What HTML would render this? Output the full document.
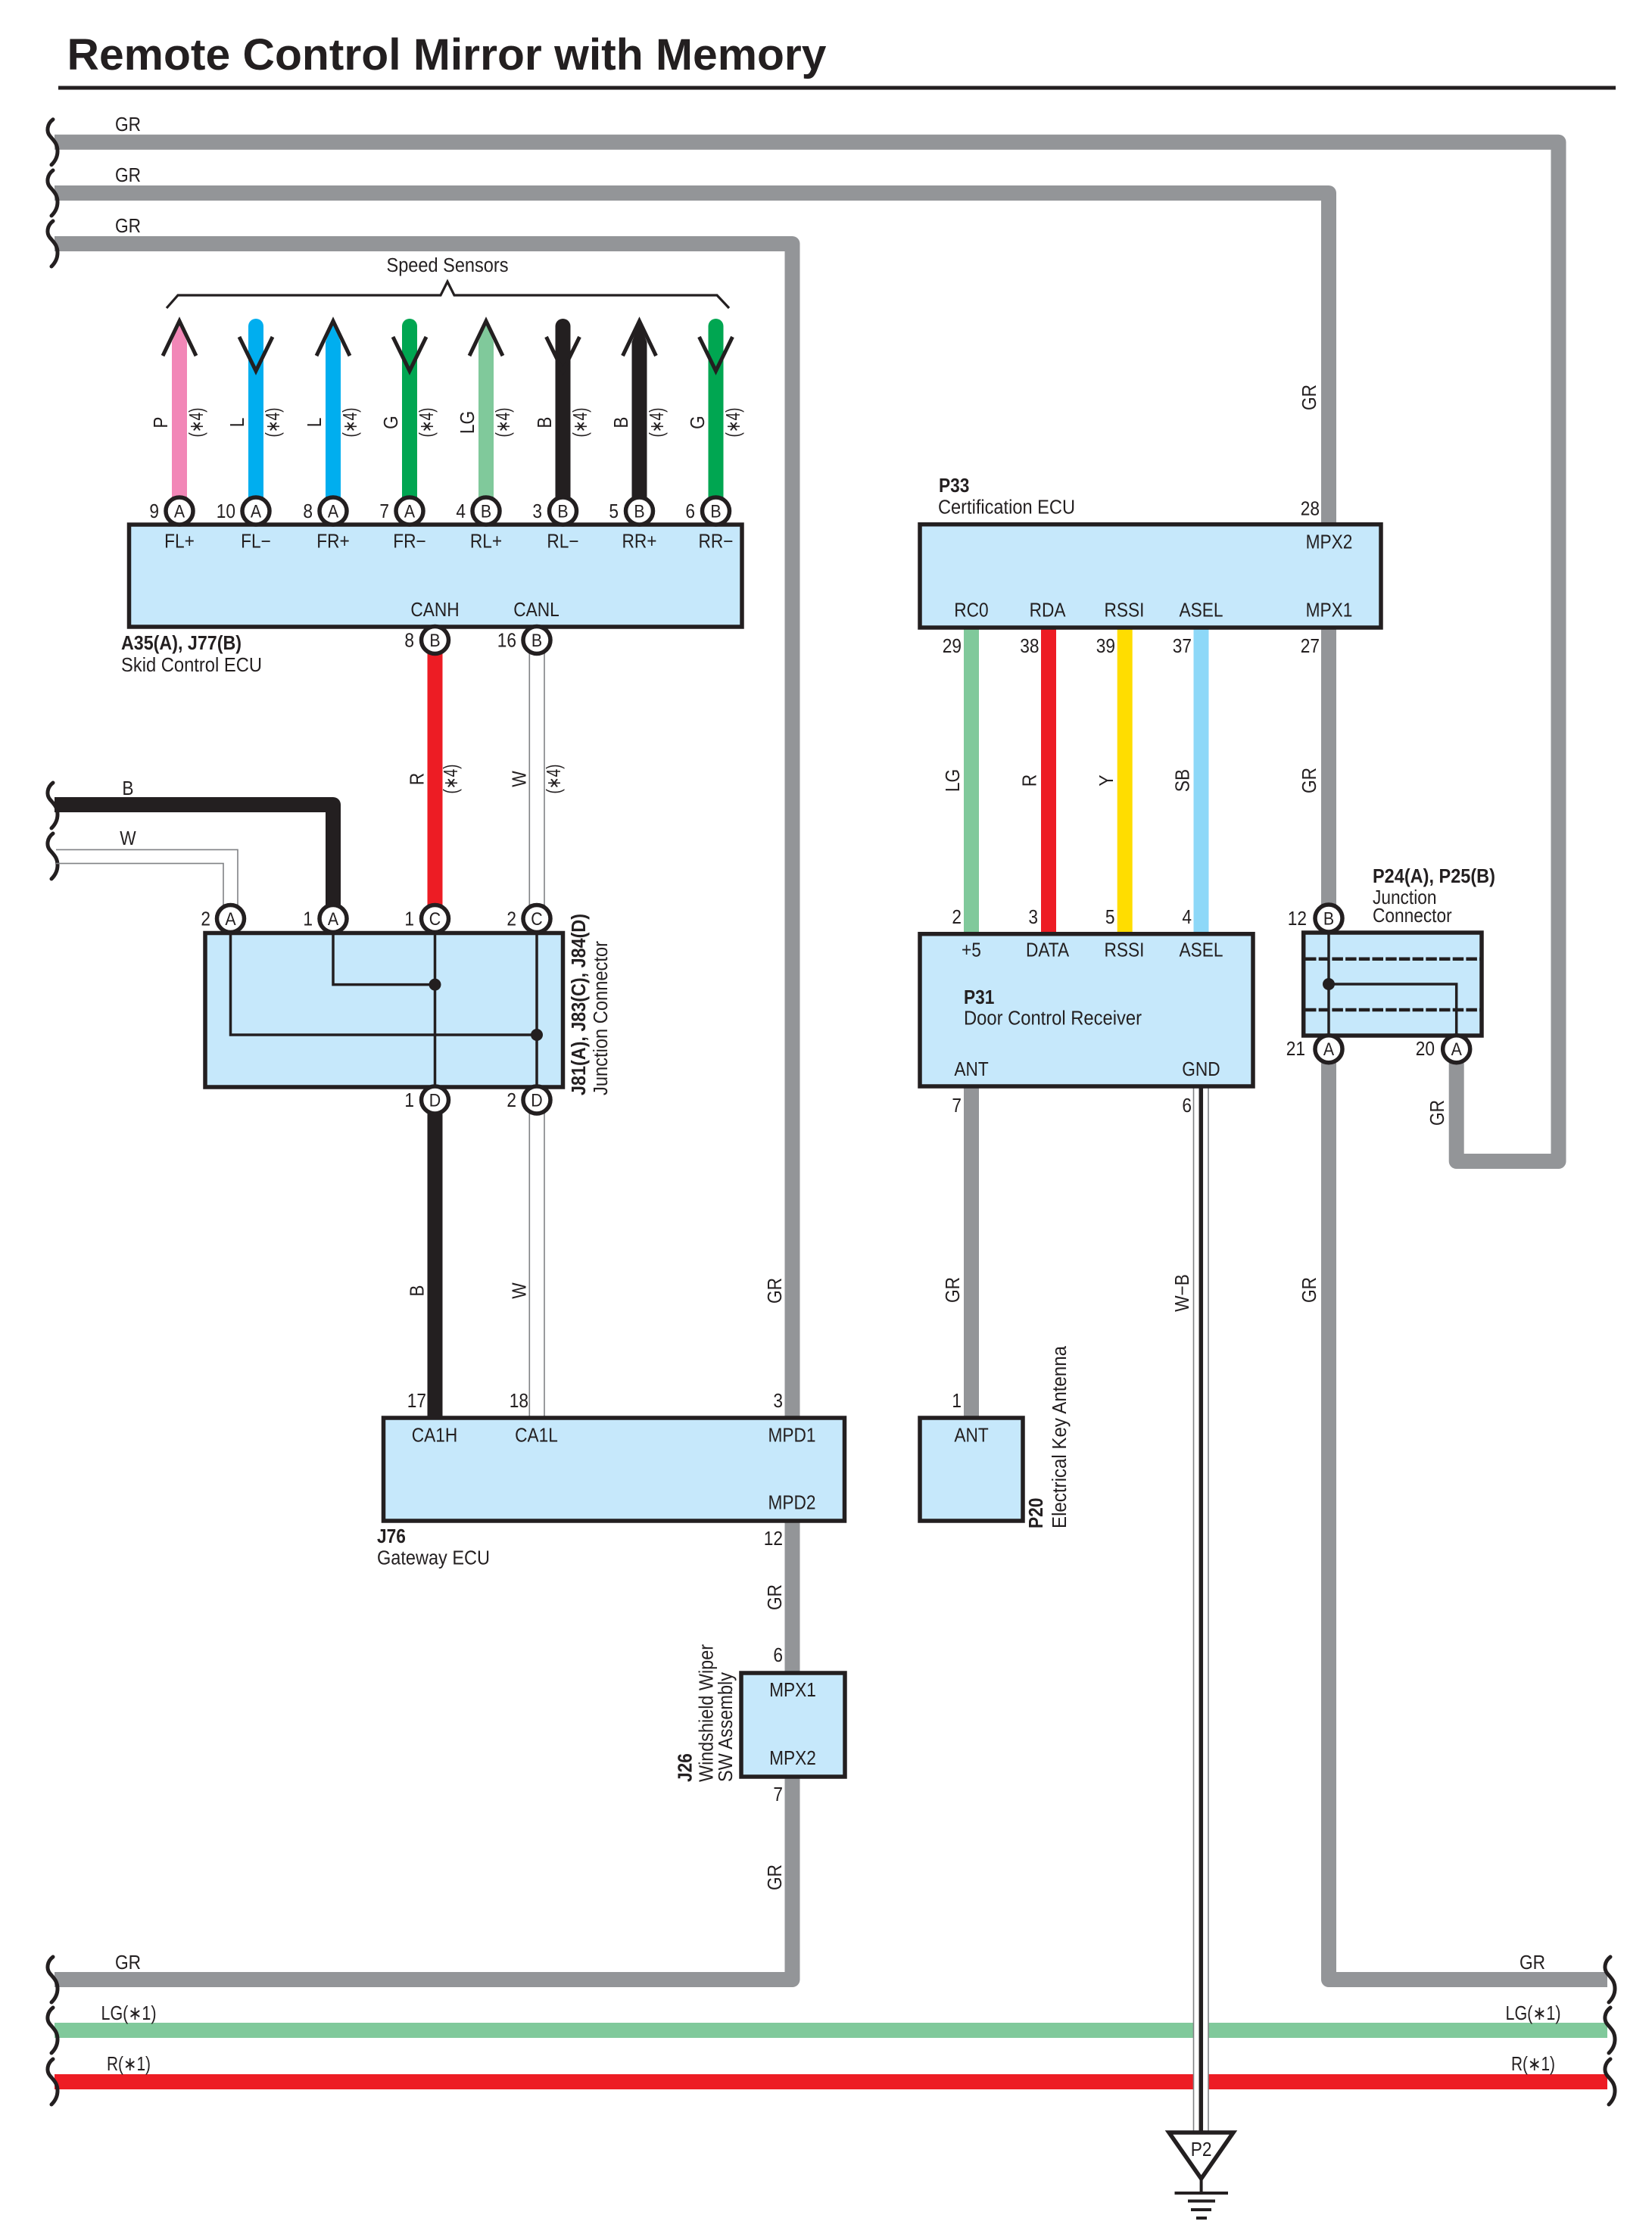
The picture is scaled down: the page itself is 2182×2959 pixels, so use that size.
<!DOCTYPE html>
<html lang="en"><head><meta charset="utf-8"><title>Remote Control Mirror with Memory</title>
<style>
html,body{margin:0;padding:0;background:#fff}
svg{display:block}
text{font-family:"Liberation Sans",sans-serif;font-size:25.5px;fill:#231f20;transform-box:fill-box;transform-origin:left center;transform:scaleX(.89)}
.e{text-anchor:end;transform-origin:right center}.m{text-anchor:middle;transform-origin:center}.b{font-weight:bold}
text.n{transform:none}
.c + text{font-size:24px}
.box{fill:#c6e8fb;stroke:#231f20;stroke-width:5.5;stroke-linejoin:miter}
.w{fill:none;stroke-width:20;stroke-linejoin:round}
.c{fill:#fff;stroke:#231f20;stroke-width:5.5}
.br{fill:none;stroke:#231f20;stroke-width:5;stroke-linecap:round}
.t{fill:none;stroke:#231f20;stroke-width:3.5}
.th{fill:none;stroke:#808285;stroke-width:1.6}
.ch{fill:none;stroke:#231f20;stroke-width:5}
</style></head><body>
<svg xmlns="http://www.w3.org/2000/svg" width="2182" height="2959" viewBox="0 0 2182 2959">
<rect width="2182" height="2959" fill="#fff"/>
<text x="88.5" y="92" class="b n" style="font-size:58px" textLength="1003" lengthAdjust="spacingAndGlyphs">Remote Control Mirror with Memory</text>
<rect x="77" y="113.5" width="2057" height="5" fill="#231f20"/>

<!-- long wires -->
<polyline class="w" stroke="#939598" points="72,187.7 2058.5,187.7 2058.5,1534 1923.7,1534 1923.7,1386"/>
<polyline class="w" stroke="#939598" points="72,255 1755,255 1755,2615 2123,2615"/>
<polyline class="w" stroke="#939598" points="72,322 1046.5,322 1046.5,2615 72,2615"/>
<line x1="72" y1="2682" x2="2123" y2="2682" stroke="#80c99b" stroke-width="20"/>
<line x1="72" y1="2750" x2="2123" y2="2750" stroke="#ed1c24" stroke-width="20"/>

<!-- braces -->
<path class="br" transform="translate(0,187.7)" d="M70-30C62-24 61-14 66-8C71-2 76 2 76 12C76 20 72 26 68 30"/>
<path class="br" transform="translate(0,255)" d="M70-30C62-24 61-14 66-8C71-2 76 2 76 12C76 20 72 26 68 30"/>
<path class="br" transform="translate(0,322)" d="M70-30C62-24 61-14 66-8C71-2 76 2 76 12C76 20 72 26 68 30"/>
<path class="br" transform="translate(0,1064)" d="M70-30C62-24 61-14 66-8C71-2 76 2 76 12C76 20 72 26 68 30"/>
<path class="br" transform="translate(0,1131)" d="M70-30C62-24 61-14 66-8C71-2 76 2 76 12C76 20 72 26 68 30"/>
<path class="br" transform="translate(0,2615)" d="M70-30C62-24 61-14 66-8C71-2 76 2 76 12C76 20 72 26 68 30"/>
<path class="br" transform="translate(0,2682)" d="M70-30C62-24 61-14 66-8C71-2 76 2 76 12C76 20 72 26 68 30"/>
<path class="br" transform="translate(0,2750)" d="M70-30C62-24 61-14 66-8C71-2 76 2 76 12C76 20 72 26 68 30"/>
<path class="br" transform="translate(2057,2615)" d="M70-30C62-24 61-14 66-8C71-2 76 2 76 12C76 20 72 26 68 30"/>
<path class="br" transform="translate(2057,2682)" d="M70-30C62-24 61-14 66-8C71-2 76 2 76 12C76 20 72 26 68 30"/>
<path class="br" transform="translate(2057,2750)" d="M70-30C62-24 61-14 66-8C71-2 76 2 76 12C76 20 72 26 68 30"/>

<!-- wire labels on horizontal runs -->
<text x="169" y="173" class="m">GR</text><text x="169" y="240" class="m">GR</text><text x="169" y="307" class="m">GR</text>
<text x="169" y="2601" class="m">GR</text><text x="170" y="2668" class="m n" textLength="73" lengthAdjust="spacingAndGlyphs">LG(∗1)</text><text x="170" y="2735" class="m n" textLength="58" lengthAdjust="spacingAndGlyphs">R(∗1)</text>
<text x="2024" y="2601" class="m">GR</text><text x="2025" y="2668" class="m n" textLength="73" lengthAdjust="spacingAndGlyphs">LG(∗1)</text><text x="2025" y="2735" class="m n" textLength="58" lengthAdjust="spacingAndGlyphs">R(∗1)</text>
<text x="169" y="1050" class="m">B</text><text x="169" y="1116" class="m">W</text>

<!-- speed sensors -->
<text x="591" y="359" class="m n" textLength="161" lengthAdjust="spacingAndGlyphs">Speed Sensors</text>
<polyline points="220,407 235,390 582,390 591,372 600,390 947,390 963,407" fill="none" stroke="#231f20" stroke-width="3.2"/>

<polygon points="227,657 227,452 237,426 247,452 247,657" fill="#f287b7"/>
<polyline class="ch" points="215,470 237,424 259,470"/>
<line x1="338" y1="431" x2="338" y2="657" stroke="#00aeef" stroke-width="20" stroke-linecap="round"/>
<polyline class="ch" points="316,445 338,490 360,445"/>
<polygon points="430,657 430,452 440,426 450,452 450,657" fill="#00aeef"/>
<polyline class="ch" points="418,470 440,424 462,470"/>
<line x1="541" y1="431" x2="541" y2="657" stroke="#00a651" stroke-width="20" stroke-linecap="round"/>
<polyline class="ch" points="519,445 541,490 563,445"/>
<polygon points="632,657 632,452 642,426 652,452 652,657" fill="#80c99b"/>
<polyline class="ch" points="620,470 642,424 664,470"/>
<line x1="743.5" y1="431" x2="743.5" y2="657" stroke="#231f20" stroke-width="20" stroke-linecap="round"/>
<polyline class="ch" points="721.5,445 743.5,490 765.5,445"/>
<polygon points="834.5,657 834.5,452 844.5,426 854.5,452 854.5,657" fill="#231f20"/>
<polyline class="ch" points="822.5,470 844.5,424 866.5,470"/>
<line x1="945.5" y1="431" x2="945.5" y2="657" stroke="#00a651" stroke-width="20" stroke-linecap="round"/>
<polyline class="ch" points="923.5,445 945.5,490 967.5,445"/>

<!-- rotated labels on sensors -->
<g transform="translate(221,558) rotate(-90)"><text class="m">P</text></g><g transform="translate(268,558) rotate(-90)"><text class="m n" textLength="39" lengthAdjust="spacingAndGlyphs">(∗4)</text></g>
<g transform="translate(322,558) rotate(-90)"><text class="m">L</text></g><g transform="translate(369,558) rotate(-90)"><text class="m n" textLength="39" lengthAdjust="spacingAndGlyphs">(∗4)</text></g>
<g transform="translate(424,558) rotate(-90)"><text class="m">L</text></g><g transform="translate(471,558) rotate(-90)"><text class="m n" textLength="39" lengthAdjust="spacingAndGlyphs">(∗4)</text></g>
<g transform="translate(525,558) rotate(-90)"><text class="m">G</text></g><g transform="translate(572,558) rotate(-90)"><text class="m n" textLength="39" lengthAdjust="spacingAndGlyphs">(∗4)</text></g>
<g transform="translate(626,558) rotate(-90)"><text class="m">LG</text></g><g transform="translate(673,558) rotate(-90)"><text class="m n" textLength="39" lengthAdjust="spacingAndGlyphs">(∗4)</text></g>
<g transform="translate(728,558) rotate(-90)"><text class="m">B</text></g><g transform="translate(775,558) rotate(-90)"><text class="m n" textLength="39" lengthAdjust="spacingAndGlyphs">(∗4)</text></g>
<g transform="translate(829,558) rotate(-90)"><text class="m">B</text></g><g transform="translate(876,558) rotate(-90)"><text class="m n" textLength="39" lengthAdjust="spacingAndGlyphs">(∗4)</text></g>
<g transform="translate(930,558) rotate(-90)"><text class="m">G</text></g><g transform="translate(977,558) rotate(-90)"><text class="m n" textLength="39" lengthAdjust="spacingAndGlyphs">(∗4)</text></g>

<!-- skid ECU -->
<rect class="box" x="170.5" y="693" width="809.5" height="135"/>
<text x="237" y="723.5" class="m">FL+</text><text x="338" y="723.5" class="m">FL−</text><text x="440" y="723.5" class="m">FR+</text><text x="541" y="723.5" class="m">FR−</text>
<text x="642" y="723.5" class="m">RL+</text><text x="743.5" y="723.5" class="m">RL−</text><text x="844.5" y="723.5" class="m">RR+</text><text x="945.5" y="723.5" class="m">RR−</text>
<text x="574.5" y="814" class="m">CANH</text><text x="708.5" y="814" class="m">CANL</text>
<text x="160" y="858" class="b n" textLength="159" lengthAdjust="spacingAndGlyphs">A35(A), J77(B)</text>
<text x="160" y="887" class="n" textLength="186" lengthAdjust="spacingAndGlyphs">Skid Control ECU</text>

<!-- connectors top row -->
<circle class="c" cx="237" cy="675" r="18"/><text x="237" y="683.5" class="m">A</text><text x="210" y="684" class="e">9</text>
<circle class="c" cx="338" cy="675" r="18"/><text x="338" y="683.5" class="m">A</text><text x="311" y="684" class="e">10</text>
<circle class="c" cx="440" cy="675" r="18"/><text x="440" y="683.5" class="m">A</text><text x="413" y="684" class="e">8</text>
<circle class="c" cx="541" cy="675" r="18"/><text x="541" y="683.5" class="m">A</text><text x="514" y="684" class="e">7</text>
<circle class="c" cx="642" cy="675" r="18"/><text x="642" y="683.5" class="m">B</text><text x="615" y="684" class="e">4</text>
<circle class="c" cx="743.5" cy="675" r="18"/><text x="743.5" y="683.5" class="m">B</text><text x="716" y="684" class="e">3</text>
<circle class="c" cx="844.5" cy="675" r="18"/><text x="844.5" y="683.5" class="m">B</text><text x="817" y="684" class="e">5</text>
<circle class="c" cx="945.5" cy="675" r="18"/><text x="945.5" y="683.5" class="m">B</text><text x="918" y="684" class="e">6</text>

<!-- CAN wires -->
<line x1="574.5" y1="848" x2="574.5" y2="1214" stroke="#ed1c24" stroke-width="20"/>
<line x1="699.3" y1="848" x2="699.3" y2="1214" class="th"/><line x1="719" y1="848" x2="719" y2="1214" class="th"/>
<line x1="574.5" y1="1453" x2="574.5" y2="1873" stroke="#231f20" stroke-width="20"/>
<line x1="699.3" y1="1453" x2="699.3" y2="1873" class="th"/><line x1="719" y1="1453" x2="719" y2="1873" class="th"/>
<circle class="c" cx="574.5" cy="845.5" r="18"/><text x="574.5" y="854" class="m">B</text><text x="547" y="854.5" class="e">8</text>
<circle class="c" cx="709" cy="845.5" r="18"/><text x="709" y="854" class="m">B</text><text x="682" y="854.5" class="e">16</text>
<g transform="translate(559.5,1029) rotate(-90)"><text class="m">R</text></g><g transform="translate(604,1029) rotate(-90)"><text class="m n" textLength="39" lengthAdjust="spacingAndGlyphs">(∗4)</text></g>
<g transform="translate(694.5,1029) rotate(-90)"><text class="m">W</text></g><g transform="translate(740,1029) rotate(-90)"><text class="m n" textLength="39" lengthAdjust="spacingAndGlyphs">(∗4)</text></g>

<!-- B / W from left -->
<polyline class="w" stroke="#231f20" points="72,1063 440,1063 440,1214"/>
<polyline class="th" points="74,1122.4 314,1122.4 314,1214"/>
<polyline class="th" points="74,1140.6 295,1140.6 295,1214"/>

<!-- junction J81 -->
<rect class="box" x="271" y="1232.5" width="472.5" height="203.5"/>
<polyline class="t" points="440,1232 440,1300.6 574.5,1300.6"/>
<polyline class="t" points="304.5,1232 304.5,1367 709,1367"/>
<line class="t" x1="574.5" y1="1232" x2="574.5" y2="1436"/><line class="t" x1="709" y1="1232" x2="709" y2="1436"/>
<circle cx="574.5" cy="1300.6" r="8" fill="#231f20"/><circle cx="709" cy="1367" r="8" fill="#231f20"/>
<circle class="c" cx="304.5" cy="1213.5" r="18"/><text x="304.5" y="1222" class="m">A</text><text x="278" y="1222.5" class="e">2</text>
<circle class="c" cx="440" cy="1213.5" r="18"/><text x="440" y="1222" class="m">A</text><text x="413" y="1222.5" class="e">1</text>
<circle class="c" cx="574.5" cy="1213.5" r="18"/><text x="574.5" y="1222" class="m">C</text><text x="547" y="1222.5" class="e">1</text>
<circle class="c" cx="709" cy="1213.5" r="18"/><text x="709" y="1222" class="m">C</text><text x="682" y="1222.5" class="e">2</text>
<circle class="c" cx="574.5" cy="1453" r="18"/><text x="574.5" y="1461.5" class="m">D</text><text x="547" y="1462" class="e">1</text>
<circle class="c" cx="709" cy="1453" r="18"/><text x="709" y="1461.5" class="m">D</text><text x="682" y="1462" class="e">2</text>
<g transform="translate(773,1447) rotate(-90)"><text class="b n" textLength="240" lengthAdjust="spacingAndGlyphs">J81(A), J83(C), J84(D)</text></g>
<g transform="translate(802,1447) rotate(-90)"><text class="n" textLength="204" lengthAdjust="spacingAndGlyphs">Junction Connector</text></g>

<!-- wire labels -->
<g transform="translate(559.5,1705) rotate(-90)"><text class="m">B</text></g>
<g transform="translate(694.5,1705) rotate(-90)"><text class="m">W</text></g>
<g transform="translate(1032,1705) rotate(-90)"><text class="m">GR</text></g>
<g transform="translate(1032,2110) rotate(-90)"><text class="m">GR</text></g>
<g transform="translate(1032,2480) rotate(-90)"><text class="m">GR</text></g>
<g transform="translate(1738,525) rotate(-90)"><text class="m">GR</text></g>
<g transform="translate(1738,1031) rotate(-90)"><text class="m">GR</text></g>
<g transform="translate(1738,1704) rotate(-90)"><text class="m">GR</text></g>
<g transform="translate(1907,1470) rotate(-90)"><text class="m">GR</text></g>
<g transform="translate(1267,1704) rotate(-90)"><text class="m">GR</text></g>
<g transform="translate(1570,1708) rotate(-90)"><text class="m">W−B</text></g>

<!-- gateway -->
<text x="563" y="1859" class="e">17</text><text x="698" y="1859" class="e">18</text><text x="1034" y="1859" class="e">3</text>
<rect class="box" x="506.5" y="1873" width="609" height="136"/>
<text x="574" y="1904.5" class="m">CA1H</text><text x="708.5" y="1904.5" class="m">CA1L</text><text x="1046" y="1904.5" class="m">MPD1</text><text x="1046" y="1993.5" class="m">MPD2</text>
<text x="1034" y="2041" class="e">12</text>
<text x="498" y="2038" class="b">J76</text>
<text x="498" y="2066.5" class="n" textLength="149" lengthAdjust="spacingAndGlyphs">Gateway ECU</text>

<!-- J26 -->
<text x="1034" y="2195" class="e">6</text><text x="1034" y="2379" class="e">7</text>
<rect class="box" x="979" y="2210" width="137" height="137"/>
<text x="1047" y="2241" class="m">MPX1</text><text x="1047" y="2331" class="m">MPX2</text>
<g transform="translate(913.5,2354) rotate(-90)"><text class="b">J26</text></g>
<g transform="translate(941.5,2354) rotate(-90)"><text class="n" textLength="182" lengthAdjust="spacingAndGlyphs">Windshield Wiper</text></g>
<g transform="translate(967,2354) rotate(-90)"><text class="n" textLength="145" lengthAdjust="spacingAndGlyphs">SW Assembly</text></g>

<!-- P33 -->
<text x="1240" y="650" class="b">P33</text>
<text x="1239" y="678.5" class="n" textLength="181" lengthAdjust="spacingAndGlyphs">Certification ECU</text>
<text x="1743" y="680.5" class="e">28</text>
<line x1="1283" y1="829" x2="1283" y2="1234" stroke="#80c99b" stroke-width="20"/>
<line x1="1385" y1="829" x2="1385" y2="1234" stroke="#ed1c24" stroke-width="20"/>
<line x1="1485.7" y1="829" x2="1485.7" y2="1234" stroke="#ffdd00" stroke-width="20"/>
<line x1="1586.5" y1="829" x2="1586.5" y2="1234" stroke="#8dd8f8" stroke-width="20"/>
<rect class="box" x="1215" y="692.7" width="609" height="136.3"/>
<text x="1755.5" y="724.5" class="m">MPX2</text>
<text x="1283" y="814.5" class="m">RC0</text><text x="1383.5" y="814.5" class="m">RDA</text><text x="1485" y="814.5" class="m">RSSI</text><text x="1586.5" y="814.5" class="m">ASEL</text><text x="1755.5" y="814.5" class="m">MPX1</text>
<text x="1270" y="862" class="e">29</text><text x="1372.5" y="862" class="e">38</text><text x="1473" y="862" class="e">39</text><text x="1574" y="862" class="e">37</text><text x="1743" y="862" class="e">27</text>
<g transform="translate(1267,1031) rotate(-90)"><text class="m">LG</text></g>
<g transform="translate(1368.5,1031) rotate(-90)"><text class="m">R</text></g>
<g transform="translate(1470,1031) rotate(-90)"><text class="m">Y</text></g>
<g transform="translate(1570.5,1031) rotate(-90)"><text class="m">SB</text></g>
<text x="1270" y="1220" class="e">2</text><text x="1371" y="1220" class="e">3</text><text x="1472.5" y="1220" class="e">5</text><text x="1574" y="1220" class="e">4</text>

<!-- ANT wire and ground -->
<line x1="1283" y1="1435" x2="1283" y2="1873" stroke="#939598" stroke-width="20"/>
<rect x="1576.5" y="1435" width="19.5" height="1381" fill="#fff"/>
<line x1="1576.5" y1="1435" x2="1576.5" y2="2816" class="th"/><line x1="1596" y1="1435" x2="1596" y2="2816" class="th"/>
<line x1="1586.3" y1="1435" x2="1586.3" y2="2816" stroke="#231f20" stroke-width="5.5"/>

<!-- P31 -->
<rect class="box" x="1215" y="1233.7" width="440" height="201.3"/>
<text x="1283" y="1263.7" class="m">+5</text><text x="1383.5" y="1263.7" class="m">DATA</text><text x="1485" y="1263.7" class="m">RSSI</text><text x="1586.5" y="1263.7" class="m">ASEL</text>
<text x="1273" y="1326" class="b">P31</text>
<text x="1273" y="1353.5" class="n" textLength="235" lengthAdjust="spacingAndGlyphs">Door Control Receiver</text>
<text x="1283" y="1421" class="m">ANT</text><text x="1586.5" y="1421" class="m">GND</text>
<text x="1270" y="1469" class="e">7</text><text x="1574" y="1469" class="e">6</text>

<!-- antenna -->
<text x="1270" y="1859" class="e">1</text>
<rect class="box" x="1215" y="1873" width="136" height="136"/>
<text x="1283" y="1904.5" class="m">ANT</text>
<g transform="translate(1377,2019) rotate(-90)"><text class="b">P20</text></g>
<g transform="translate(1408,2019) rotate(-90)"><text class="n" textLength="241" lengthAdjust="spacingAndGlyphs">Electrical Key Antenna</text></g>

<!-- P24 junction -->
<rect class="box" x="1721.7" y="1232" width="235.3" height="136"/>
<line x1="1724" y1="1266.7" x2="1955" y2="1266.7" stroke="#231f20" stroke-width="4.5" stroke-dasharray="14.5 3.2"/>
<line x1="1724" y1="1334" x2="1955" y2="1334" stroke="#231f20" stroke-width="4.5" stroke-dasharray="14.5 3.2"/>
<line class="t" x1="1755" y1="1232" x2="1755" y2="1368"/>
<polyline class="t" points="1755,1300 1923.7,1300 1923.7,1368"/>
<circle cx="1755" cy="1300" r="8" fill="#231f20"/>
<circle class="c" cx="1755" cy="1213" r="18"/><text x="1755" y="1221.5" class="m">B</text><text x="1726" y="1222" class="e">12</text>
<circle class="c" cx="1755" cy="1385.7" r="18"/><text x="1755" y="1394" class="m">A</text><text x="1724" y="1394" class="e">21</text>
<circle class="c" cx="1923.7" cy="1385.7" r="18"/><text x="1923.7" y="1394" class="m">A</text><text x="1895" y="1394" class="e">20</text>
<text x="1813" y="1166" class="b n" textLength="162" lengthAdjust="spacingAndGlyphs">P24(A), P25(B)</text>
<text x="1813" y="1194">Junction</text>
<text x="1813" y="1218">Connector</text>

<!-- ground -->
<polygon points="1544,2817 1629,2817 1586.6,2878" fill="#fff" stroke="#231f20" stroke-width="5.5"/>
<text x="1586.6" y="2848" class="m">P2</text>
<line x1="1586.6" y1="2878" x2="1586.6" y2="2897" stroke="#231f20" stroke-width="4"/>
<line x1="1551.5" y1="2897" x2="1622" y2="2897" stroke="#231f20" stroke-width="4"/>
<line x1="1569" y1="2907.5" x2="1605" y2="2907.5" stroke="#231f20" stroke-width="4"/>
<line x1="1573" y1="2919" x2="1600" y2="2919" stroke="#231f20" stroke-width="4"/>
<line x1="1580" y1="2930" x2="1594" y2="2930" stroke="#231f20" stroke-width="4"/>
</svg>
</body></html>
